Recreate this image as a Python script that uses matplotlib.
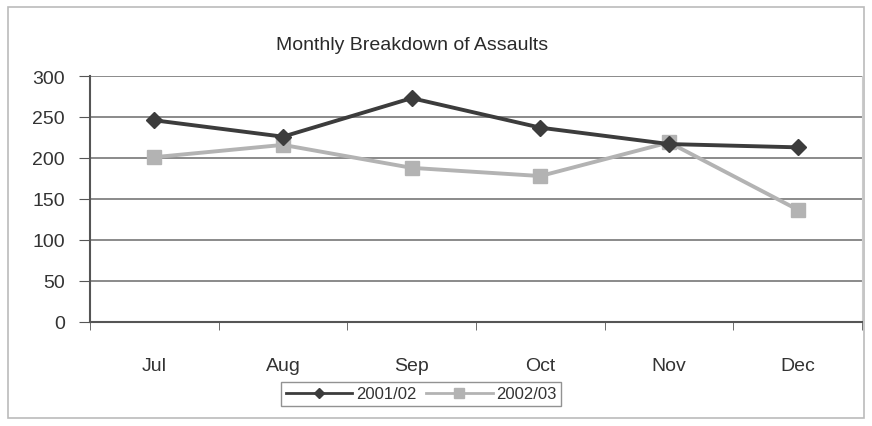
import matplotlib
matplotlib.use("Agg")
import matplotlib.pyplot as plt
from matplotlib.patches import Rectangle

months = ["Jul", "Aug", "Sep", "Oct", "Nov", "Dec"]
s2001 = [246, 226, 273, 237, 217, 213]
s2002 = [201, 216, 188, 178, 219, 137]
yticks = [0, 50, 100, 150, 200, 250, 300]

plt.rcParams['font.family'] = ['Liberation Sans Narrow', 'Liberation Sans', 'DejaVu Sans']
plt.rcParams['font.stretch'] = 'condensed'

fig = plt.figure(figsize=(8.72, 4.27), dpi=100)
fig.patch.set_facecolor('white')
fig.add_artist(Rectangle((8/872, 8/427), 856/872, 411/427, transform=fig.transFigure,
                         fill=False, edgecolor='#bbbbbb', linewidth=1.2))

ax = fig.add_axes([90/872, 1-323/427, 772/872, 246/427])
x = list(range(len(months)))
ax.plot(x, s2001, color='#3c3c3c', lw=2.8, marker='D', ms=8, label='2001/02', zorder=3)
ax.plot(x, s2002, color='#b3b3b3', lw=2.8, marker='s', ms=10, label='2002/03', zorder=2)

ax.set_xlim(-0.5, 5.5)
ax.set_ylim(0, 300)
ax.set_yticks(yticks)
ax.set_xticks(x)
ax.set_xticklabels(months)
ax.set_xticks([i + 0.5 for i in range(-1, 6)], minor=True)
ax.tick_params(axis='x', which='major', length=0, pad=25, labelsize=14, colors='#333333')
ax.tick_params(axis='x', which='minor', length=6, color='#555555', direction='out')
ax.tick_params(axis='y', length=8, pad=10, labelsize=14, colors='#333333', color='#555555')
ax.grid(axis='y', color='#777777', lw=1.2)
ax.set_axisbelow(True)
for s in ['left', 'bottom']:
    ax.spines[s].set_color('#555555')
    ax.spines[s].set_linewidth(1.5)
ax.spines['top'].set_visible(False)
ax.spines['right'].set_color('#cccccc')

fig.text(412/872, 1-45/427, "Monthly Breakdown of Assaults", ha='center', va='center',
         fontsize=14, color='#2a2a2a')

leg = fig.legend(loc='center', bbox_to_anchor=(421/872, 1-395/427), ncol=2,
                 frameon=True, fancybox=False, fontsize=12, handlelength=4,
                 markerscale=0.7, borderpad=0.25, columnspacing=0.6, handletextpad=0.2)
leg.get_frame().set_edgecolor('#777777')
for line in leg.get_lines():
    line.set_linewidth(2)
for t in leg.get_texts():
    t.set_color('#333333')

fig.savefig("out.png", dpi=100)
